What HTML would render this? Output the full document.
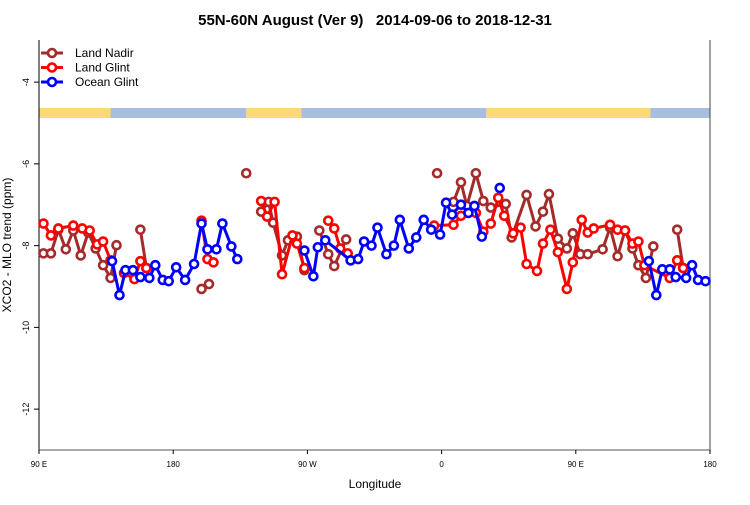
<!DOCTYPE html>
<html><head><meta charset="utf-8"><style>
body{margin:0;background:#fff;font-family:"Liberation Sans",sans-serif}
svg text{font-family:"Liberation Sans",sans-serif}
</style></head><body>
<svg id="chart" width="750" height="500" xmlns="http://www.w3.org/2000/svg">
<text x="375" y="25" text-anchor="middle" font-size="15" font-weight="bold">55N-60N August (Ver 9)&#160;&#160; 2014-09-06 to 2018-12-31</text>
<text transform="translate(11,245) rotate(-90)" text-anchor="middle" font-size="12">XCO2 - MLO trend (ppm)</text>
<text x="375" y="488" text-anchor="middle" font-size="12">Longitude</text>
<g id="strip"></g>
<g id="axes"></g>
<g id="series"></g>
<g id="legend"></g>
</svg>
<script>
// longitudes are unwrapped degrees east (90..540 => 90E .. 180 .. 0 .. 180)
const nadirLon=[93,98,103,108,113,118,123,128,133,138,142,null,158,162,null,199,204,null,229,null,239,244,247,253,257,263,268,null,278,284,288,296,null,357,null,368,373,377,383,388,393,403,407,417,423,428,432,438,444,448,453,458,468,473,478,483,488,492,497,502,null,518,522];
const nadirVal=[-8.19,-8.19,-7.61,-8.09,-7.63,-8.24,-7.68,-8.07,-8.48,-8.79,-7.99,null,-7.61,-8.55,null,-9.06,-8.94,null,-6.23,null,-7.17,-6.93,-7.44,-8.24,-7.87,-7.78,-8.60,null,-7.63,-8.21,-8.50,-7.85,null,-6.23,null,-6.93,-6.45,-7.03,-6.23,-6.91,-7.07,-6.98,-7.80,-6.76,-7.53,-7.17,-6.74,-7.83,-8.07,-7.70,-8.21,-8.21,-8.09,-7.56,-8.26,-7.63,-8.07,-8.48,-8.79,-8.02,null,-7.61,-8.55];
const glintLon=[93,98,103,113,119,124,129,133,138,null,147,154,158,162,null,199,203,207,null,239,243,248,253,260,263,268,null,284,288,292,297,null,355,368,373,383,388,393,398,402,408,413,417,424,428,433,438,444,448,454,458,462,473,478,483,488,492,496,513,518,522];
const glintVal=[-7.46,-7.75,-7.58,-7.51,-7.58,-7.63,-7.97,-7.90,-8.36,null,-8.67,-8.82,-8.38,-8.55,null,-7.39,-8.33,-8.41,null,-6.91,-7.29,-6.93,-8.70,-7.75,-7.95,-8.55,null,-7.39,-7.58,-8.07,-8.19,null,-7.51,-7.49,-7.27,-7.20,-7.66,-7.46,-6.83,-7.27,-7.70,-7.56,-8.45,-8.62,-7.95,-7.61,-8.16,-9.06,-8.41,-7.37,-7.68,-7.58,-7.49,-7.61,-7.63,-7.95,-7.90,-8.48,-8.79,-8.36,-8.55];
const oceanLon=[139,144,148,153,158,164,168,173,177,182,188,194,199,203,209,213,219,223,null,268,274,277,282,299,304,308,313,317,323,328,332,338,343,348,353,359,363,367,373,378,382,387,null,399,null,499,504,508,513,517,524,528,532,537];
const oceanVal=[-8.38,-9.21,-8.60,-8.60,-8.77,-8.79,-8.48,-8.84,-8.87,-8.53,-8.84,-8.45,-7.46,-8.09,-8.09,-7.46,-8.02,-8.33,null,-8.12,-8.75,-8.04,-7.87,-8.36,-8.33,-7.90,-8.00,-7.56,-8.21,-8.00,-7.37,-8.07,-7.80,-7.37,-7.61,-7.73,-6.95,-7.24,-7.00,-7.20,-7.03,-7.78,null,-6.59,null,-8.38,-9.21,-8.58,-8.58,-8.77,-8.79,-8.48,-8.84,-8.87];
const yTicks=[-4,-6,-8,-10,-12];
const xTicks=[90,180,270,360,450,540];
const xTickLabels=["90 E","180","90 W","0","90 E","180"];
const names=["Land Nadir","Land Glint","Ocean Glint"];
const colors=["#a52a2a","#ff0000","#0000ff"];
// land (1) / ocean (0) segments along strip, unwrapped lon boundaries
const stripEdges=[90,138,229,266,390,500,540];
const stripType=[1,0,1,0,1,0];

const NS="http://www.w3.org/2000/svg";
const X0=39,X1=710,Y0=40,Y1=450;
const lonMin=90,lonMax=540,vMin=-13.0,vMax=-2.97;
const sx=l=>X0+(l-lonMin)/(lonMax-lonMin)*(X1-X0);
const sy=v=>Y1-(v-vMin)/(vMax-vMin)*(Y1-Y0);
function mk(tag,attrs,parent){const e=document.createElementNS(NS,tag);for(const k in attrs)e.setAttribute(k,attrs[k]);parent.appendChild(e);return e;}
const strip=document.getElementById('strip');
for(let i=0;i<stripType.length;i++){
  const r=mk('rect',{x:sx(stripEdges[i]),y:108,width:sx(stripEdges[i+1])-sx(stripEdges[i]),height:10,fill:stripType[i]?'#fdd876':'#a7bedc'},strip);
  
  
}
const axes=document.getElementById('axes');
mk('line',{x1:X0,y1:Y0,x2:X0,y2:Y1,stroke:'#000'},axes);
mk('line',{x1:X1,y1:Y0,x2:X1,y2:Y1,stroke:'#444'},axes);
mk('line',{x1:X0,y1:Y1,x2:X1,y2:Y1,stroke:'#555'},axes);
yTicks.forEach(v=>{
  mk('line',{x1:X0-5,y1:sy(v),x2:X0,y2:sy(v),stroke:'#000'},axes);
  const t=mk('text',{transform:`translate(29,${sy(v)}) rotate(-90)`,'text-anchor':'middle','font-size':9},axes);
  t.textContent=v;
  
  
});
xTicks.forEach((l,i)=>{
  mk('line',{x1:sx(l),y1:Y1,x2:sx(l),y2:Y1+4,stroke:'#000'},axes);
  const t=mk('text',{x:sx(l),y:Y1+17,'text-anchor':'middle','font-size':8},axes);
  t.textContent=xTickLabels[i];
  
  
});
const ser=document.getElementById('series');
function draw(lon,val,c,nm){
  const g=mk('g',{},ser);
  
  
  let d='',pen=false;
  for(let i=0;i<lon.length;i++){
    if(lon[i]===null){pen=false;continue;}
    d+=(pen?'L':'M')+sx(lon[i]).toFixed(1)+' '+sy(val[i]).toFixed(1);pen=true;
  }
  mk('path',{d:d,fill:'none',stroke:c,'stroke-width':3,'stroke-linejoin':'round'},g);
  for(let i=0;i<lon.length;i++){
    if(lon[i]===null)continue;
    const p=mk('circle',{cx:sx(lon[i]),cy:sy(val[i]),r:4,fill:'#fff',stroke:c,'stroke-width':2.6},g);
    
    
  }
}
draw(nadirLon,nadirVal,colors[0],'land-nadir-series');
draw(glintLon,glintVal,colors[1],'land-glint-series');
draw(oceanLon,oceanVal,colors[2],'ocean-glint-series');
const lg=document.getElementById('legend');
names.forEach((n,i)=>{
  const y=53+i*14.5;
  const g=mk('g',{},lg);
  
  
  mk('line',{x1:41,y1:y,x2:63,y2:y,stroke:colors[i],'stroke-width':3},g);
  mk('circle',{cx:52,cy:y,r:4,fill:'#fff',stroke:colors[i],'stroke-width':2.6},g);
  const t=mk('text',{x:75,y:y+4,'font-size':12},g);
  t.textContent=n;
});
</script>
</body></html>
